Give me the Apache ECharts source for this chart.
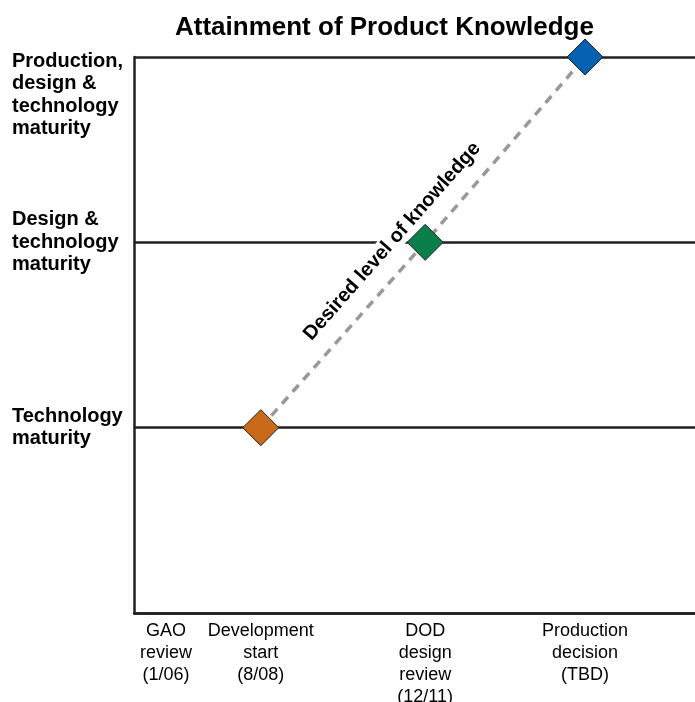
<!DOCTYPE html>
<html>
<head>
<meta charset="utf-8">
<script src="https://cdn.jsdelivr.net/npm/echarts@6/dist/echarts.min.js"></script>
<style>
html,body{margin:0;padding:0;background:#fff;}
#chart{width:695px;height:702px;}
</style>
</head>
<body>
<div id="chart"></div>
<script>
// ---- data ----
const titleText = 'Attainment of Product Knowledge';
const xLabels = ['GAO\nreview\n(1/06)', 'Development\nstart\n(8/08)', 'DOD\ndesign\nreview\n(12/11)', 'Production\ndecision\n(TBD)'];
const xPositions = [5.7, 22.6, 51.9, 80.4];
const yLabels = ['Technology\nmaturity', 'Design &\ntechnology\nmaturity', 'Production,\ndesign &\ntechnology\nmaturity'];
const yLevels = [1, 2, 3];
const milestoneX = [22.6, 51.9, 80.4];
const milestoneY = [1, 2, 3];
const milestoneColors = ['#c96a1a', '#0a7f4b', '#0562b0'];
const lineLabel = 'Desired level of knowledge';

const FONT = '"Liberation Sans", Arial, Helvetica, sans-serif';
const INK = '#231f20';

const chart = echarts.init(document.getElementById('chart'), null, {renderer: 'canvas'});

const pts = milestoneX.map((x, i) => [x, milestoneY[i]]);

function yFormatter(v) {
  const idx = yLevels.indexOf(v);
  if (idx < 0) return '';
  const lines = yLabels[idx].split('\n').map(s => '{b|' + s + '}').join('\n');
  if (idx === yLevels.length - 1) return '{pad| }\n' + lines;
  return lines;
}
function xFormatter(v) {
  let best = -1, bd = 1e9;
  xPositions.forEach((p, i) => { const d = Math.abs(p - v); if (d < bd) { bd = d; best = i; } });
  return bd < 0.01 ? xLabels[best] : '';
}

chart.setOption({
  animation: false,
  backgroundColor: '#fff',
  title: {
    text: titleText,
    left: 170,
    top: 10,
    textStyle: {fontFamily: FONT, fontSize: 26, fontWeight: 'bold', color: '#000'}
  },
  grid: {left: 134, right: 0, top: 57, bottom: 89, containLabel: false, outerBoundsMode: 'none'},
  xAxis: {
    type: 'value', min: 0, max: 100,
    axisLine: {show: true, lineStyle: {color: INK, width: 2.5}},
    axisTick: {show: false},
    splitLine: {show: false},
    axisLabel: {
      customValues: xPositions,
      formatter: xFormatter,
      margin: 7,
      fontFamily: FONT, fontSize: 18, lineHeight: 22, color: '#000', align: 'center'
    }
  },
  yAxis: {
    type: 'value', min: 0, max: 3, interval: 1,
    axisLine: {show: true, lineStyle: {color: INK, width: 2.5}},
    axisTick: {show: false},
    splitLine: {show: true, lineStyle: {color: INK, width: 2.5}},
    axisLabel: {
      customValues: yLevels,
      formatter: yFormatter,
      align: 'left',
      margin: 122,
      verticalAlign: 'middle',
      rich: {
        b: {fontFamily: FONT, fontSize: 20, fontWeight: 'bold', lineHeight: 22.5, color: '#000'},
        pad: {fontSize: 1, lineHeight: 75.5}
      }
    }
  },
  series: [
    {
      type: 'line',
      data: pts,
      showSymbol: false,
      symbol: 'none',
      clip: false,
      lineStyle: {color: '#999999', width: 3.5, type: [9, 7]},
      z: 2
    },
    {
      type: 'scatter',
      data: pts.map((p, i) => ({value: p, itemStyle: {color: milestoneColors[i]}})),
      symbol: 'diamond',
      symbolSize: 36,
      clip: false,
      itemStyle: {borderColor: INK, borderWidth: 1, opacity: 1},
      emphasis: {disabled: true},
      z: 3
    }
  ]
});

// rotated label along the dashed line, placed relative to the middle milestone
const mid = chart.convertToPixel({gridIndex: 0}, pts[1]);
chart.setOption({
  graphic: [{
    type: 'text',
    x: mid[0] - 33,
    y: mid[1] - 1,
    rotation: 48.6 * Math.PI / 180,
    z: 10,
    style: {
      text: lineLabel,
      fontFamily: FONT,
      fontSize: 20,
      fontWeight: 'bold',
      fill: '#000',
      align: 'center',
      verticalAlign: 'middle',
      backgroundColor: '#fff',
      padding: [1, 2]
    }
  }]
});
</script>
</body>
</html>
